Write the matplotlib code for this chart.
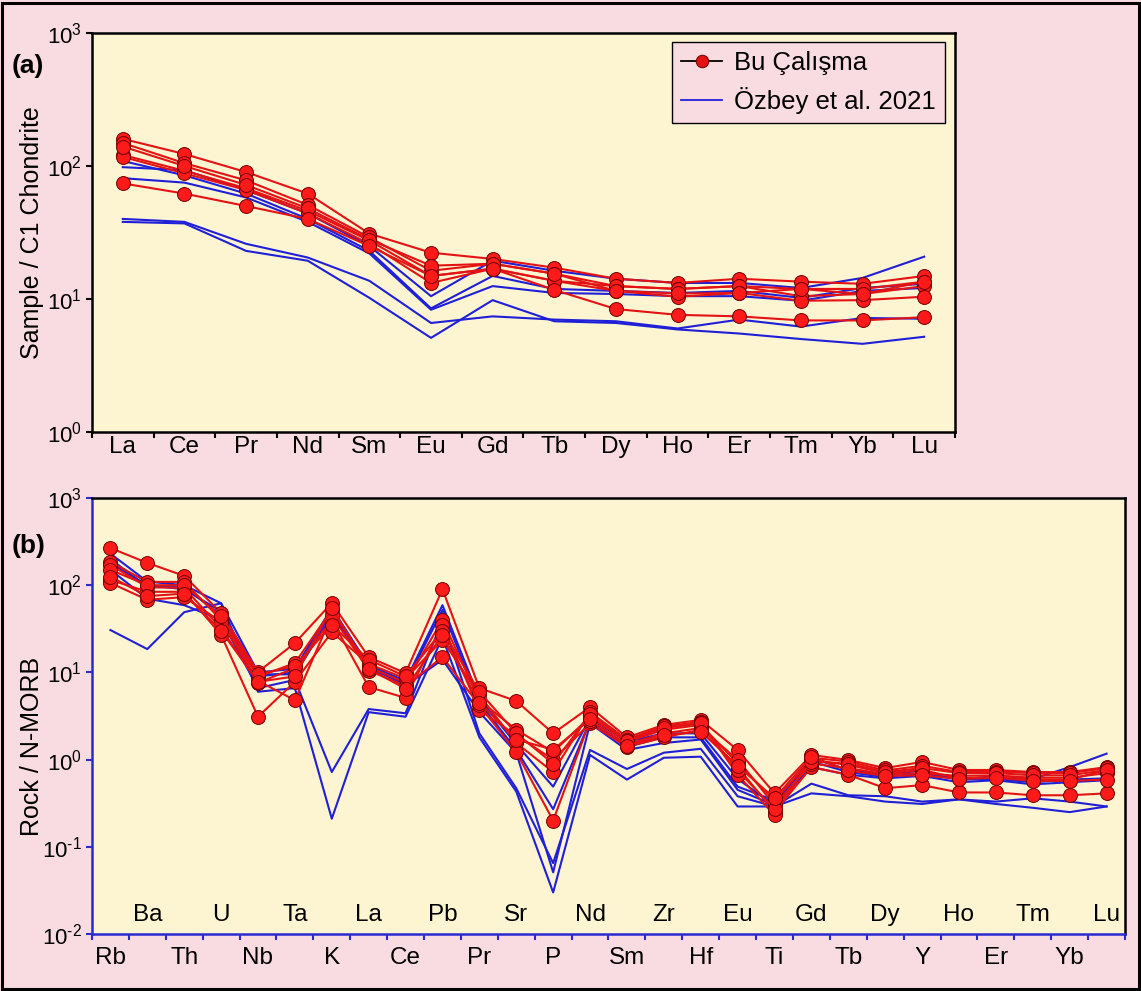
import numpy as np
import matplotlib
matplotlib.use("Agg")
import matplotlib.pyplot as plt
from matplotlib.lines import Line2D
from matplotlib.patches import Rectangle
from matplotlib.ticker import FixedLocator, NullFormatter, NullLocator, FuncFormatter

plt.rcParams["font.family"] = ["Liberation Sans", "DejaVu Sans"]
plt.rcParams["mathtext.fontset"] = "custom"
plt.rcParams["mathtext.rm"] = "Liberation Sans"
plt.rcParams["mathtext.it"] = "Liberation Sans"

# ── Data: chondrite-normalised REE ───────────────────────────────
ree = ["La", "Ce", "Pr", "Nd", "Sm", "Eu", "Gd", "Tb", "Dy", "Ho", "Er", "Tm", "Yb", "Lu"]

ree_this = [
    [160, 123, 90, 62, 31, 22.3, 20.0, 17.2, 14.2, 13.2, 14.2, 13.5, 13.0, 14.9],
    [149, 105, 78, 51, 29, 16.3, 18.4, 15.5, 12.5, 11.9, 12.5, 11.9, 11.9, 13.5],
    [121, 92, 68, 46, 27.5, 14.9, 16.9, 13.7, 12.5, 11.9, 12.5, 10.5, 10.9, 12.5],
    [117, 88, 66, 44, 26, 13.2, 16.9, 13.7, 11.5, 10.4, 11.1, 9.7, 9.8, 10.4],
    [140, 100, 72, 48, 28, 17.8, 18.4, 15.5, 11.5, 11.0, 11.1, 11.9, 10.9, 13.5],
    [74, 62, 50, 40, 25, 14.9, 16.9, 11.7, 8.4, 7.6, 7.4, 6.9, 6.9, 7.3],
]

ree_ozbey = [
    [98, 93, 66, 44, 25, 10.5, 19.4, 16.3, 14.2, 13.2, 13.2, 12.1, 14.4, 20.8],
    [109, 85, 62, 40, 23, 8.5, 14.9, 11.9, 11.5, 11.1, 11.5, 10.2, 12.1, 13.0],
    [81, 75, 58, 38, 22, 8.3, 12.5, 11.1, 10.9, 10.5, 10.5, 9.7, 11.5, 12.1],
    [40, 38, 26, 20.5, 13.7, 6.6, 7.4, 7.0, 6.8, 6.0, 7.0, 6.2, 7.2, 7.1],
    [38, 37, 23, 19.4, 10.2, 5.1, 9.8, 6.8, 6.6, 5.9, 5.5, 5.0, 4.6, 5.2],
]

# ── Data: N-MORB-normalised multi-element ────────────────────────
spider = ["Rb", "Ba", "Th", "U", "Nb", "Ta", "K", "La", "Ce", "Pb", "Pr", "Sr", "P", "Nd",
          "Sm", "Zr", "Hf", "Eu", "Ti", "Gd", "Tb", "Dy", "Y", "Ho", "Er", "Tm", "Yb", "Lu"]

spider_this = [
    [267, 180, 128, 48, 10.1, 21.7, 62.5, 15.0, 9.8, 90, 6.6, 4.7, 2.0, 4.0,
     1.8, 2.5, 2.85, 1.29, 0.41, 1.13, 0.99, 0.80, 0.94, 0.76, 0.76, 0.72, 0.72, 0.82],
    [185, 109, 109, 40, 8.9, 12.8, 52, 11.5, 7.6, 40, 4.8, 2.2, 1.22, 3.1,
     1.6, 2.2, 2.5, 0.91, 0.34, 0.99, 0.87, 0.70, 0.76, 0.61, 0.63, 0.59, 0.59, 0.76],
    [171, 95, 93, 32, 7.6, 11.2, 40, 6.8, 5.1, 35, 3.7, 1.9, 1.0, 2.6,
     1.4, 1.8, 2.2, 0.82, 0.25, 0.82, 0.67, 0.47, 0.51, 0.42, 0.42, 0.39, 0.39, 0.41],
    [115, 84, 84, 27, 3.1, 7.8, 29, 12.5, 8.5, 23.5, 5.5, 1.55, 0.72, 3.5,
     1.7, 2.4, 2.7, 0.67, 0.23, 1.05, 0.95, 0.75, 0.85, 0.72, 0.73, 0.70, 0.70, 0.80],
    [106, 68, 73, 38, 8.0, 4.8, 45, 10.5, 7.0, 15, 4.2, 1.22, 0.20, 2.8,
     1.5, 2.0, 2.3, 1.0, 0.30, 0.90, 0.80, 0.68, 0.70, 0.65, 0.66, 0.62, 0.62, 0.70],
    [150, 100, 100, 44, 9.5, 11.8, 35, 14.0, 9.0, 30, 6.0, 2.0, 0.9, 3.3,
     1.65, 2.3, 2.6, 0.75, 0.27, 0.95, 0.90, 0.72, 0.80, 0.70, 0.70, 0.66, 0.66, 0.76],
    [125, 75, 80, 30, 7.8, 9.0, 55, 11.0, 6.5, 27, 4.5, 1.7, 1.3, 2.9,
     1.45, 1.9, 2.1, 0.85, 0.36, 1.08, 0.75, 0.65, 0.66, 0.60, 0.62, 0.57, 0.57, 0.59],
]

spider_ozbey = [
    [230, 110, 100, 62, 10, 11, 55, 12, 8, 59, 5.0, 1.5, 0.49, 3.0,
     1.6, 2.0, 2.0, 0.60, 0.30, 1.05, 0.76, 0.67, 0.75, 0.59, 0.65, 0.60, 0.82, 1.17],
    [200, 95, 95, 45, 9, 10, 50, 11, 7.5, 52, 4.5, 1.3, 0.27, 2.8,
     1.4, 1.8, 1.8, 0.49, 0.34, 0.95, 0.72, 0.63, 0.70, 0.59, 0.60, 0.55, 0.59, 0.61],
    [150, 70, 59, 40, 6.6, 8.2, 0.72, 3.8, 3.4, 40, 2.0, 0.47, 0.065, 1.29,
     0.78, 1.2, 1.33, 0.38, 0.29, 0.53, 0.39, 0.38, 0.33, 0.35, 0.33, 0.36, 0.33, 0.29],
    [30.6, 18.5, 49, 62, 6.0, 6.6, 0.21, 3.5, 3.1, 25, 1.8, 0.43, 0.030, 1.13,
     0.59, 1.05, 1.08, 0.29, 0.29, 0.41, 0.38, 0.33, 0.31, 0.35, 0.31, 0.28, 0.25, 0.29],
    [180, 100, 90, 50, 9.5, 9.5, 45, 12, 7, 14, 3.5, 1.2, 0.051, 2.6,
     1.29, 1.55, 1.7, 0.45, 0.30, 0.82, 0.67, 0.61, 0.65, 0.55, 0.58, 0.52, 0.55, 0.58],
]

# ── Styling ──────────────────────────────────────────────────────
BG = "#f9dce1"
FACE = "#fdf5d2"
RED = "#e41212"
RED_EDGE = "#6e0000"
BLUE = "#1f1fd8"
AX_BLUE = "#2a2ad0"
LABEL_SIZE = 17.5


def decade_label(v, pos):
    # plain hyphen in the exponent, the way the original software prints it
    e = int(round(np.log10(v)))
    sign = "\u2010" if e < 0 else ""
    return r"$10^{%s%d}$" % (sign, abs(e))


fig = plt.figure(figsize=(11.41, 9.91), dpi=100, facecolor=BG)
fig.patches.append(Rectangle((0.002, 0.002), 0.996, 0.995, transform=fig.transFigure,
                             fill=False, ec="black", lw=2.2, zorder=10))

ax1 = fig.add_axes([0.0806, 0.5641, 0.7564, 0.4026], facecolor=FACE)
ax2 = fig.add_axes([0.0806, 0.0575, 0.9054, 0.4400], facecolor=FACE)


def draw_series(ax, this, ozbey):
    n = len(this[0])
    x = np.arange(n) + 0.5
    for row in ozbey:
        ax.plot(x, row, color=BLUE, lw=1.5, zorder=2)
    for row in this:
        ax.plot(x, row, color=RED, lw=1.5, marker="o", ms=10, mfc="#ff1a1a",
                mec=RED_EDGE, mew=0.7, zorder=3)
    ax.set_xlim(0, n)
    ax.set_yscale("log")
    ax.xaxis.set_major_locator(FixedLocator(np.arange(n + 1)))
    ax.xaxis.set_major_formatter(NullFormatter())
    ax.xaxis.set_minor_locator(NullLocator())
    ax.yaxis.set_minor_locator(NullLocator())
    ax.yaxis.set_major_formatter(FuncFormatter(decade_label))
    ax.tick_params(axis="both", direction="out", length=4, width=1.5, labelsize=16,
                   top=False, right=False)
    for s in ax.spines.values():
        s.set_linewidth(1.8)


# (a) REE diagram
draw_series(ax1, ree_this, ree_ozbey)
ax1.set_ylim(1, 1000)
ax1.yaxis.set_major_locator(FixedLocator([1, 10, 100, 1000]))
for i, name in enumerate(ree):
    ax1.annotate(name, xy=(i + 0.5, 0), xycoords=("data", "axes fraction"),
                 xytext=(0, -11), textcoords="offset points",
                 ha="center", va="center", fontsize=LABEL_SIZE)
ax1.set_ylabel("Sample / C1 Chondrite", fontsize=18)
ax1.yaxis.set_label_coords(-0.055, 0.5)

handles = [
    Line2D([], [], color="black", lw=1.3, marker="o", ms=9, mfc=RED, mec=RED_EDGE, mew=0.7),
    Line2D([], [], color=BLUE, lw=1.3),
]
leg = ax1.legend(handles, ["Bu Çalışma", "Özbey et al. 2021"], loc="upper right",
                 bbox_to_anchor=(0.988, 0.977), borderaxespad=0, fontsize=18.5,
                 frameon=True, fancybox=False, framealpha=1, facecolor=BG,
                 edgecolor="black", handlelength=1.6, handletextpad=0.45,
                 labelspacing=0.45, borderpad=0.35)
leg.get_frame().set_linewidth(1.0)

# (b) multi-element diagram
draw_series(ax2, spider_this, spider_ozbey)
ax2.set_ylim(0.01, 1000)
ax2.yaxis.set_major_locator(FixedLocator([0.01, 0.1, 1, 10, 100, 1000]))
for side in ("left", "bottom"):
    ax2.spines[side].set_color(AX_BLUE)
ax2.tick_params(axis="both", color=AX_BLUE)
for i, name in enumerate(spider):
    dy = 14 if i % 2 else -17
    ax2.annotate(name, xy=(i + 0.5, 0), xycoords=("data", "axes fraction"),
                 xytext=(0, dy), textcoords="offset points",
                 ha="center", va="center", fontsize=LABEL_SIZE)
ax2.set_ylabel("Rock / N-MORB", fontsize=18)
ax2.yaxis.set_label_coords(-0.046, 0.43)

fig.text(12 / 1141, 1 - 66 / 991, "(a)", fontsize=19, fontweight="bold", va="center")
fig.text(12 / 1141, 1 - 546 / 991, "(b)", fontsize=19, fontweight="bold", va="center")

fig.savefig("out.png", dpi=100, facecolor=BG)
